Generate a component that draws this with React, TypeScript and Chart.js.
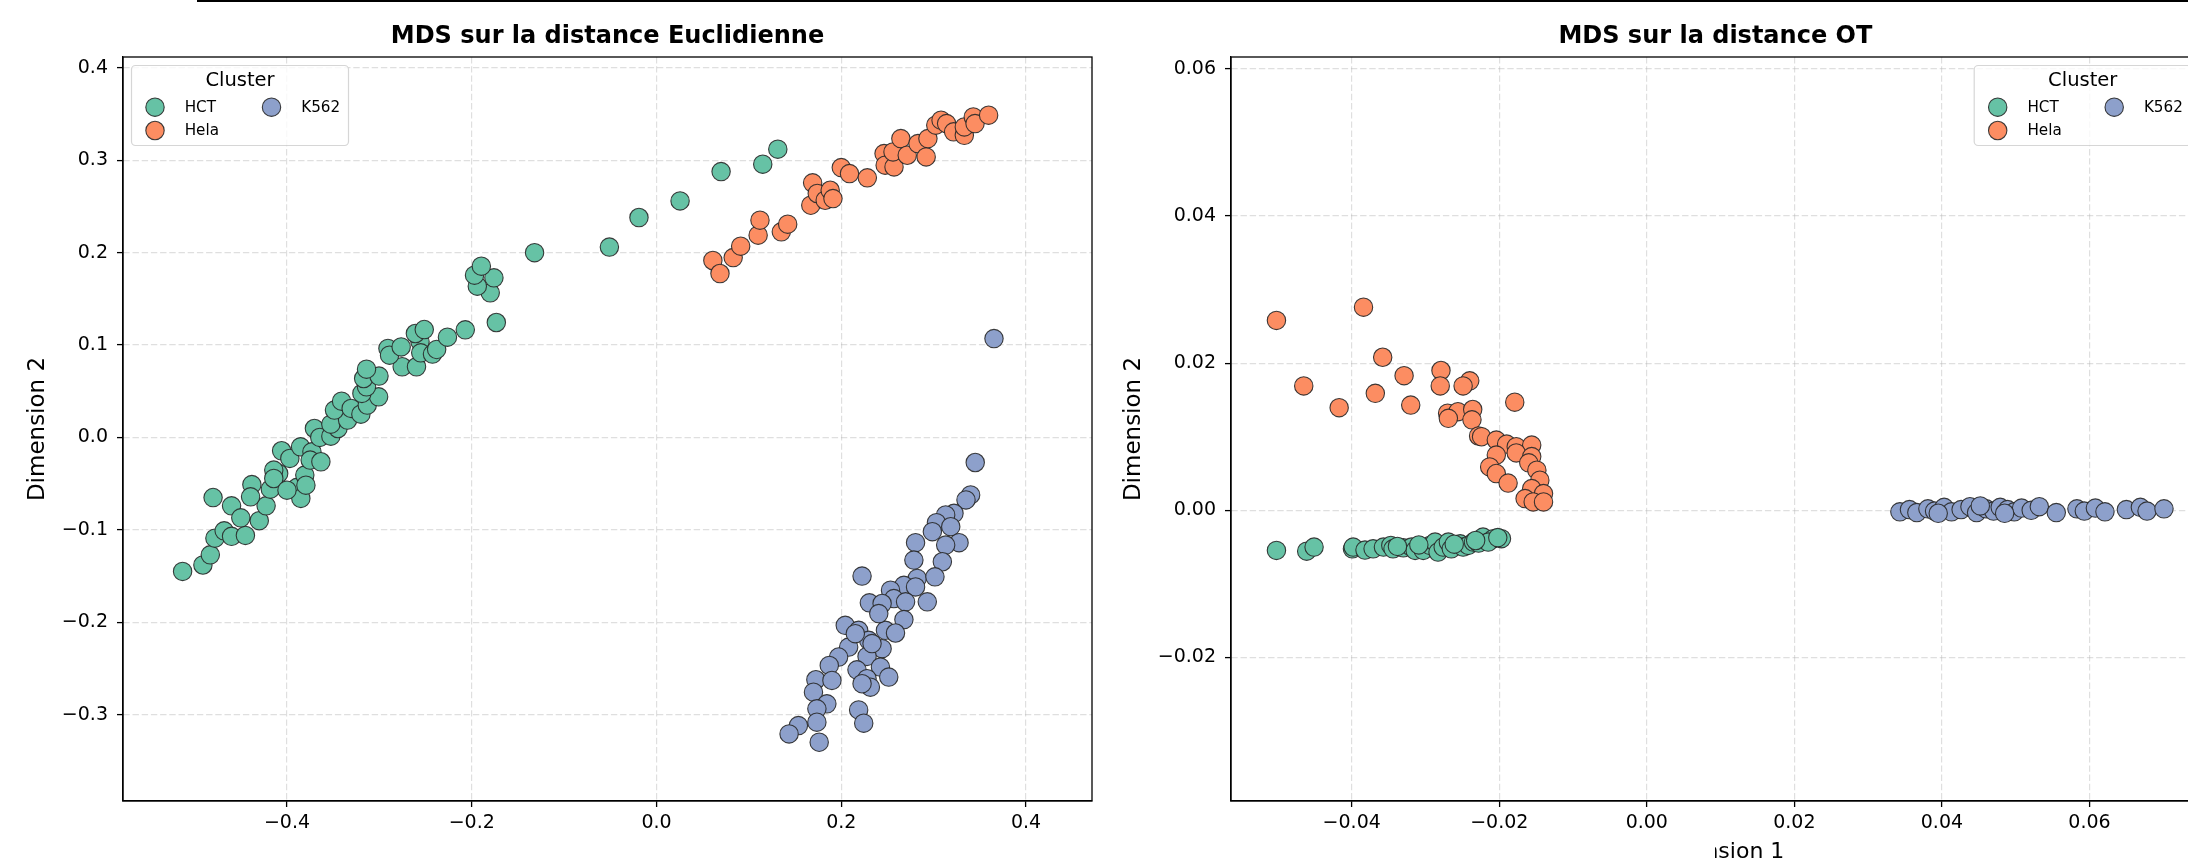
import React, { useEffect, useRef } from "react";
import { Chart, registerables } from "chart.js";

Chart.register(...registerables);

const FONT = "'DejaVu Sans', 'Liberation Sans', sans-serif";

const clusterNames = ["HCT", "Hela", "K562"];
const clusterFill = ["#66c2a5", "#fc8d62", "#8da0cb"];

// ---------- Panel 1 : MDS sur la distance Euclidienne ----------
const eucHCT: [number, number][] = [
  [-0.513, -0.145], [-0.491, -0.138], [-0.483, -0.127], [-0.478, -0.109], [-0.468, -0.101],
  [-0.46, -0.107], [-0.445, -0.106], [-0.48, -0.065], [-0.46, -0.074], [-0.45, -0.087],
  [-0.43, -0.09], [-0.4226, -0.074], [-0.438, -0.051], [-0.418, -0.056], [-0.409, -0.039],
  [-0.389, -0.054], [-0.385, -0.066], [-0.4394, -0.0642], [-0.4143, -0.0353], [-0.4143, -0.0444],
  [-0.4, -0.057], [-0.3807, -0.0407], [-0.3795, -0.0516], [-0.4058, -0.0144], [-0.3969, -0.0227],
  [-0.3853, -0.0101], [-0.373, -0.0155], [-0.3749, -0.0245], [-0.3633, -0.0263], [-0.3703, 0.0097],
  [-0.3645, 0.0], [-0.3525, 0.0014], [-0.3448, 0.0097], [-0.3525, 0.0144], [-0.3344, 0.0188],
  [-0.3486, 0.0296], [-0.3409, 0.0393], [-0.3305, 0.0314], [-0.32, 0.0252], [-0.3131, 0.035],
  [-0.3008, 0.044], [-0.3189, 0.0476], [-0.3139, 0.0548], [-0.317, 0.0638], [-0.3004, 0.0664],
  [-0.3139, 0.0739], [-0.2753, 0.0765], [-0.2598, 0.0765], [-0.2907, 0.0963], [-0.289, 0.089],
  [-0.2764, 0.098], [-0.256, 0.1035], [-0.2552, 0.0916], [-0.2425, 0.0902], [-0.238, 0.0952],
  [-0.261, 0.1125], [-0.2514, 0.1168], [-0.2263, 0.1085], [-0.207, 0.1165], [-0.1734, 0.1244],
  [-0.18, 0.1565], [-0.194, 0.1637], [-0.176, 0.1727], [-0.197, 0.1756], [-0.1896, 0.1854],
  [-0.132, 0.2], [-0.051, 0.206], [-0.019, 0.238], [0.0255, 0.256], [0.0699, 0.2877],
  [0.115, 0.2957], [0.1313, 0.312],
];
const eucHela: [number, number][] = [
  [0.061, 0.1915], [0.0687, 0.1774], [0.083, 0.1947], [0.0911, 0.207], [0.11, 0.2189],
  [0.112, 0.2351], [0.1351, 0.2225], [0.142, 0.2308], [0.167, 0.2513], [0.169, 0.2755],
  [0.174, 0.264], [0.1826, 0.2567], [0.188, 0.2675], [0.191, 0.2585], [0.2, 0.292],
  [0.2089, 0.2856], [0.2282, 0.2809], [0.2463, 0.3072], [0.2475, 0.2946], [0.2571, 0.2928],
  [0.256, 0.309], [0.2645, 0.3234], [0.2714, 0.3054], [0.283, 0.318], [0.2919, 0.3036],
  [0.2938, 0.3234], [0.3023, 0.3379], [0.308, 0.3433], [0.314, 0.3397], [0.3216, 0.3307],
  [0.3332, 0.327], [0.3332, 0.336], [0.3429, 0.3469], [0.3448, 0.3397], [0.3595, 0.3487],
];
const eucK562: [number, number][] = [
  [0.3653, 0.107], [0.345, -0.0271], [0.34, -0.0622], [0.335, -0.0676], [0.322, -0.0821],
  [0.313, -0.0839], [0.303, -0.0922], [0.3185, -0.0966], [0.2986, -0.102], [0.2804, -0.1139],
  [0.3275, -0.1139], [0.313, -0.1165], [0.2786, -0.1327], [0.3094, -0.1345], [0.2822, -0.1526],
  [0.3014, -0.1508], [0.2225, -0.15], [0.2678, -0.16], [0.2804, -0.1617], [0.2533, -0.1653],
  [0.2569, -0.1743], [0.2304, -0.179], [0.2442, -0.1797], [0.2696, -0.1779], [0.2931, -0.1779],
  [0.2678, -0.1971], [0.2043, -0.2033], [0.2188, -0.2087], [0.2478, -0.2087], [0.2587, -0.2116],
  [0.2297, -0.2195], [0.208, -0.2268], [0.2442, -0.2286], [0.1971, -0.2376], [0.2279, -0.2369],
  [0.217, -0.2514], [0.2424, -0.2485], [0.2514, -0.2593], [0.2279, -0.2611], [0.2315, -0.2702],
  [0.2225, -0.2665], [0.187, -0.2467], [0.1725, -0.2622], [0.1899, -0.2629], [0.1699, -0.2756],
  [0.1844, -0.2882], [0.1736, -0.2937], [0.2188, -0.2948], [0.1736, -0.3081], [0.2243, -0.3092],
  [0.1536, -0.3118], [0.1435, -0.3208], [0.1761, -0.3298], [0.2406, -0.1906], [0.2333, -0.2231],
  [0.2152, -0.2123],
];
const eucXTicks = [-0.4, -0.2, 0.0, 0.2, 0.4];
const eucYTicks = [-0.3, -0.2, -0.1, 0.0, 0.1, 0.2, 0.3, 0.4];
const eucXRange = [-0.5775, 0.4714];
const eucYRange = [-0.3934, 0.4117];

// ---------- Panel 2 : MDS sur la distance OT ----------
const otHCT: [number, number][] = [
  [-0.0502, -0.00545], [-0.0461, -0.00555], [-0.0451, -0.005], [-0.0399, -0.00523], [-0.0398, -0.005],
  [-0.0382, -0.0054], [-0.0371, -0.00523], [-0.0357, -0.005], [-0.0347, -0.00477], [-0.0344, -0.00523],
  [-0.033, -0.0051], [-0.0319, -0.005], [-0.0314, -0.00545], [-0.0303, -0.00545], [-0.0294, -0.00477],
  [-0.0287, -0.00432], [-0.0283, -0.00568], [-0.0276, -0.005], [-0.0269, -0.00432], [-0.0265, -0.00523],
  [-0.0253, -0.00455], [-0.0249, -0.005], [-0.0242, -0.00477], [-0.0235, -0.00432], [-0.0228, -0.00445],
  [-0.0222, -0.00364], [-0.0208, -0.00386], [-0.0197, -0.00386], [-0.0215, -0.00432], [-0.0338, -0.0049],
  [-0.0309, -0.0047], [-0.0261, -0.0046], [-0.0232, -0.0041], [-0.0202, -0.0037],
];
const otHela: [number, number][] = [
  [-0.0502, 0.0258], [-0.0384, 0.0276], [-0.0358, 0.0208], [-0.0465, 0.0169], [-0.0417, 0.01395],
  [-0.0368, 0.0159], [-0.0329, 0.0183], [-0.032, 0.0143], [-0.0279, 0.019], [-0.028, 0.0169],
  [-0.024, 0.0176], [-0.0249, 0.0169], [-0.0179, 0.0147], [-0.027, 0.0132], [-0.0256, 0.0134],
  [-0.0236, 0.0137], [-0.0269, 0.0125], [-0.0237, 0.0123], [-0.0228, 0.0101], [-0.0224, 0.01],
  [-0.0204, 0.00955], [-0.019, 0.009], [-0.0177, 0.00864], [-0.0156, 0.00886], [-0.0204, 0.0075],
  [-0.0177, 0.0078], [-0.0156, 0.0073], [-0.016, 0.00645], [-0.0213, 0.0059], [-0.0204, 0.005],
  [-0.0188, 0.0037], [-0.0149, 0.00545], [-0.0145, 0.0041], [-0.0156, 0.00295], [-0.014, 0.00227],
  [-0.0165, 0.0016], [-0.0154, 0.00114], [-0.014, 0.00114],
];
const otK562: [number, number][] = [
  [0.0343, -0.0002], [0.0356, 0.0001], [0.0366, -0.0003], [0.0381, 0.0002], [0.039, -0.0001],
  [0.0403, 0.0004], [0.0413, -0.0002], [0.0426, 0.0001], [0.0438, 0.0005], [0.0447, -0.0003],
  [0.046, 0.0002], [0.047, -0.0001], [0.0479, 0.0004], [0.0489, 0.0001], [0.0498, -0.0002],
  [0.0508, 0.0003], [0.0521, 0.0], [0.0532, 0.0005], [0.0555, -0.0003], [0.0583, 0.0002],
  [0.0593, -0.0001], [0.0608, 0.0003], [0.0621, -0.0002], [0.065, 0.0001], [0.0669, 0.0004],
  [0.0678, -0.0001], [0.0701, 0.0002], [0.0395, -0.0004], [0.0452, 0.0006], [0.0485, -0.0004],
];
const otXTicks = [-0.04, -0.02, 0.0, 0.02, 0.04, 0.06];
const otYTicks = [-0.02, 0.0, 0.02, 0.04, 0.06];
const otXRange = [-0.05636, 0.07494];
const otYRange = [-0.0395, 0.0616];

const fmt = (v: number, d: number) => v.toFixed(d).replace("-", "\u2212");

type PanelProps = {
  left: number;
  width: number;
  padRight: number;
  yAxisWidth: number;
  yTitlePad: number;
  title: string;
  series: [number, number][][];
  xRange: number[];
  yRange: number[];
  xTicks: number[];
  yTicks: number[];
  decimals: number;
  legendSide: "left" | "right";
};

function Panel(p: PanelProps) {
  const ref = useRef<HTMLCanvasElement>(null);
  useEffect(() => {
    if (!ref.current) return;
    const chrome = {
      id: "chrome",
      afterDraw(chart: any) {
        const ctx = chart.ctx as CanvasRenderingContext2D;
        const a = chart.chartArea;
        ctx.save();
        ctx.strokeStyle = "#000";
        ctx.lineWidth = 1.3;
        ctx.strokeRect(a.left, a.top, a.right - a.left, a.bottom - a.top);
        // title
        ctx.fillStyle = "#000";
        ctx.font = `bold 24px ${FONT}`;
        ctx.textAlign = "center";
        ctx.textBaseline = "alphabetic";
        ctx.fillText(p.title, (a.left + a.right) / 2, 42.5);
        // legend
        const bw = 217;
        const bh = 80;
        const bx = p.legendSide === "left" ? a.left + 8.5 : a.right - 8.5 - bw;
        const by = a.top + 8.5;
        ctx.beginPath();
        if ((ctx as any).roundRect) (ctx as any).roundRect(bx, by, bw, bh, 4);
        else ctx.rect(bx, by, bw, bh);
        ctx.fillStyle = "rgba(255,255,255,0.8)";
        ctx.fill();
        ctx.strokeStyle = "rgba(204,204,204,0.8)";
        ctx.lineWidth = 1.2;
        ctx.stroke();
        ctx.fillStyle = "#000";
        ctx.font = `19.5px ${FONT}`;
        ctx.textAlign = "center";
        ctx.textBaseline = "middle";
        ctx.fillText("Cluster", bx + bw / 2, by + 15);
        const pos = [
          [bx + 23.5, by + 41.7],
          [bx + 23.5, by + 65],
          [bx + 140, by + 41.7],
        ];
        ctx.font = `15.2px ${FONT}`;
        ctx.textAlign = "left";
        clusterNames.forEach((name, i) => {
          const [mx, my] = pos[i];
          ctx.beginPath();
          ctx.arc(mx, my, 9.2, 0, Math.PI * 2);
          ctx.fillStyle = clusterFill[i];
          ctx.fill();
          ctx.strokeStyle = "rgba(40,40,40,0.9)";
          ctx.lineWidth = 1.1;
          ctx.stroke();
          ctx.fillStyle = "#000";
          ctx.fillText(name, mx + 29.7, my + 1);
        });
        ctx.restore();
      },
    };
    const tickFont = { family: FONT, size: 19 };
    const chart = new Chart(ref.current, {
      type: "scatter",
      data: {
        datasets: p.series.map((pts, i) => ({
          label: clusterNames[i],
          data: pts.map(([x, y]) => ({ x, y })),
          backgroundColor: clusterFill[i],
          borderColor: "rgba(40,40,40,0.9)",
          borderWidth: 1.1,
          pointRadius: 9.2,
          pointHoverRadius: 9.2,
          order: i,
        })),
      },
      options: {
        animation: false,
        responsive: true,
        maintainAspectRatio: false,
        events: [],
        layout: { padding: { left: 0, right: p.padRight, top: 57, bottom: 0 } },
        plugins: {
          legend: { display: false },
          tooltip: { enabled: false },
          title: { display: false },
        },
        scales: {
          x: {
            type: "linear",
            min: p.xRange[0],
            max: p.xRange[1],
            afterBuildTicks: (s: any) => {
              s.ticks = p.xTicks.map((v) => ({ value: v }));
            },
            afterFit: (s: any) => {
              s.height = 64;
            },
            ticks: {
              callback: (v: any) => fmt(Number(v), p.decimals),
              font: tickFont,
              color: "#000",
              padding: 5,
              maxRotation: 0,
              autoSkip: false,
            },
            grid: {
              color: "rgba(176,176,176,0.4)",
              lineWidth: 1.2,
              tickLength: 6,
              tickColor: "#000",
              tickWidth: 1.3,
              tickBorderDash: [],
            },
            border: { display: true, color: "#000", width: 1.3, dash: [6.4, 2.8] },
            title: {
              display: true,
              text: "Dimension 1",
              color: "#000",
              font: { family: FONT, size: 22, lineHeight: 0.9 },
              padding: { top: 0, bottom: 3 },
            },
          },
          y: {
            type: "linear",
            min: p.yRange[0],
            max: p.yRange[1],
            afterBuildTicks: (s: any) => {
              s.ticks = p.yTicks.map((v) => ({ value: v }));
            },
            afterFit: (s: any) => {
              s.width = p.yAxisWidth;
            },
            ticks: {
              callback: (v: any) => fmt(Number(v), p.decimals),
              font: tickFont,
              color: "#000",
              padding: 9,
              autoSkip: false,
            },
            grid: {
              color: "rgba(176,176,176,0.4)",
              lineWidth: 1.2,
              tickLength: 6,
              tickColor: "#000",
              tickWidth: 1.3,
              tickBorderDash: [],
            },
            border: { display: true, color: "#000", width: 1.3, dash: [6.4, 2.8] },
            title: {
              display: true,
              text: "Dimension 2",
              color: "#000",
              font: { family: FONT, size: 23, lineHeight: 1.2 },
              padding: { top: p.yTitlePad, bottom: 0 },
            },
          },
        },
      },
      plugins: [chrome],
    } as any);
    return () => chart.destroy();
  }, []);
  return (
    <div style={{ position: "absolute", left: p.left, top: 0, width: p.width, height: 865 }}>
      <canvas ref={ref} />
    </div>
  );
}

export default function App() {
  return (
    <div
      style={{
        position: "fixed",
        left: 0,
        top: 0,
        width: 2188,
        height: 865,
        overflow: "hidden",
        background: "#fff",
      }}
    >
      <Panel
        left={0}
        width={1110}
        padRight={18}
        yAxisWidth={123}
        yTitlePad={24}
        title="MDS sur la distance Euclidienne"
        series={[eucHCT, eucHela, eucK562]}
        xRange={eucXRange}
        yRange={eucYRange}
        xTicks={eucXTicks}
        yTicks={eucYTicks}
        decimals={1}
        legendSide="left"
      />
      <Panel
        left={1110}
        width={1100}
        padRight={10}
        yAxisWidth={121}
        yTitlePad={10.6}
        title="MDS sur la distance OT"
        series={[otHCT, otHela, otK562]}
        xRange={otXRange}
        yRange={otYRange}
        xTicks={otXTicks}
        yTicks={otYTicks}
        decimals={2}
        legendSide="right"
      />
      <div style={{ position: "absolute", left: 0, top: 832, width: 1715, height: 33, background: "#fff" }} />
      <div style={{ position: "absolute", left: 197, top: 0, width: 1991, height: 2, background: "#000" }} />
    </div>
  );
}
